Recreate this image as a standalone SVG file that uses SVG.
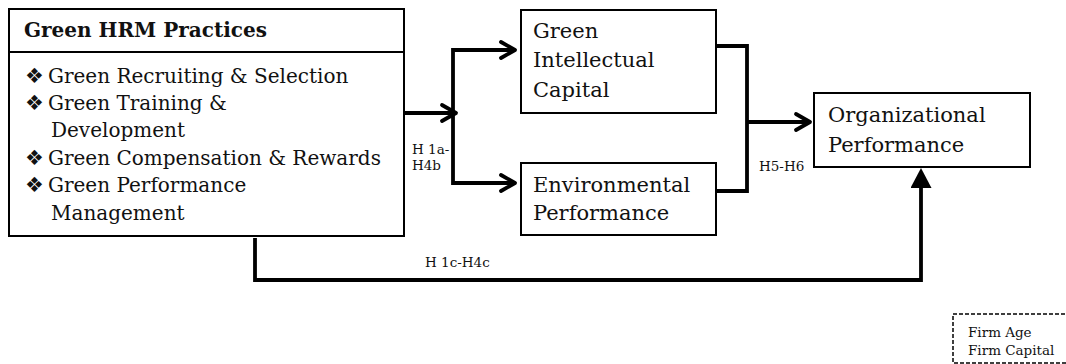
<svg xmlns="http://www.w3.org/2000/svg" width="1066" height="364" viewBox="0 0 1066 364">
<style>
.box{fill:#fff;stroke:#000;stroke-width:2}
.t{font-family:"DejaVu Serif","Liberation Serif",serif;font-size:20px;fill:#111}
.r{font-size:21px}
.b{font-family:"DejaVu Sans","Noto Sans",sans-serif;font-size:21px;fill:#111}
.s{font-family:"DejaVu Serif","Liberation Serif",serif;font-size:13.5px;fill:#111}
.c{fill:none;stroke:#000;stroke-width:3.8}
</style>
<defs>
<marker id="open" viewBox="0 0 18 20" markerWidth="18" markerHeight="20" refX="16" refY="10" orient="auto" markerUnits="userSpaceOnUse" overflow="visible">
<path d="M2,2 L16,10 L2,18" fill="none" stroke="#000" stroke-width="3.8" stroke-linejoin="round" stroke-linecap="round"/>
</marker>
<marker id="tri" viewBox="0 0 20 21" markerWidth="20" markerHeight="21" refX="13" refY="10.5" orient="auto" markerUnits="userSpaceOnUse">
<path d="M0,0 L20,10.5 L0,21 Z" fill="#000"/>
</marker>
</defs>
<rect width="1066" height="364" fill="#fff"/>
<g id="connectors">
<path class="c" d="M404,113 H456" marker-end="url(#open)"/>
<path class="c" d="M453,113 V50 H515" marker-end="url(#open)"/>
<path class="c" d="M453,113 V183 H515" marker-end="url(#open)"/>
<path class="c" d="M716,46 H747 V191 H717"/>
<path class="c" d="M747,122 H810" marker-end="url(#open)"/>
<path class="c" d="M255,238 V280 H921 V175" marker-end="url(#tri)"/>
<text class="s" x="412" y="154">H 1a-</text>
<text class="s" x="412" y="170">H4b</text>
<text class="s" x="759" y="171">H5-H6</text>
<text class="s" x="425" y="267">H 1c-H4c</text>
</g>
<g id="green-hrm">
<rect class="box" x="9" y="52" width="395" height="184"/>
<rect class="box" x="9" y="9" width="395" height="43" stroke-width="2.5"/>
<text class="t" x="24" y="37" font-weight="bold" font-size="21">Green HRM Practices</text>
<text class="b" x="25" y="83">❖︎</text>
<text class="t" x="48" y="83">Green Recruiting &amp; Selection</text>
<text class="b" x="25" y="110">❖︎</text>
<text class="t" x="48" y="110">Green Training &amp;</text>
<text class="t" x="51" y="137">Development</text>
<text class="b" x="25" y="165">❖︎</text>
<text class="t" x="48" y="165">Green Compensation &amp; Rewards</text>
<text class="b" x="25" y="192">❖︎</text>
<text class="t" x="48" y="192">Green Performance</text>
<text class="t" x="51" y="220">Management</text>
</g>
<g id="gic">
<rect class="box" x="521" y="10" width="195" height="103"/>
<text class="t r" x="533" y="38">Green</text>
<text class="t r" x="533" y="67">Intellectual</text>
<text class="t r" x="533" y="97">Capital</text>
</g>
<g id="ep">
<rect class="box" x="521" y="163" width="195" height="72"/>
<text class="t r" x="533" y="192">Environmental</text>
<text class="t r" x="533" y="220">Performance</text>
</g>
<g id="op">
<rect class="box" x="814" y="93" width="216" height="74"/>
<text class="t r" x="828" y="122">Organizational</text>
<text class="t r" x="828" y="152">Performance</text>
</g>
<g id="controls">
<rect x="953" y="314" width="200" height="49" fill="#fff" stroke="#000" stroke-width="1.5" stroke-dasharray="4,2"/>
<text class="s" x="968" y="337" font-size="13">Firm Age</text>
<text class="s" x="968" y="355" font-size="13">Firm Capital</text>
</g>
</svg>
